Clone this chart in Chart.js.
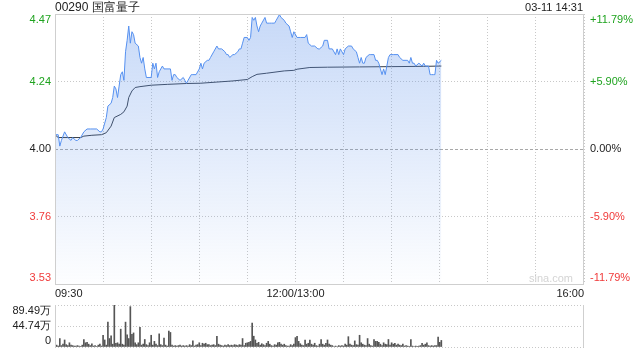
<!DOCTYPE html>
<html>
<head>
<meta charset="utf-8">
<script src="https://cdn.jsdelivr.net/npm/chart.js@4.4.1/dist/chart.umd.min.js"></script>
<style>
    html, body { margin: 0; padding: 0; background: #fff; }
    #wrap { position: relative; width: 640px; height: 360px; overflow: hidden; }
    #priceChart { position: absolute; left: 0; top: 0; }
    #volChart   { position: absolute; left: 0; top: 300px; }
</style>
</head>
<body>
<div id="wrap">
    <canvas id="priceChart" width="640" height="300"></canvas>
    <canvas id="volChart" width="640" height="60"></canvas>
</div>
<script>
// ── Data ──────────────────────────────────────────────────────────────────────
const title     = "00290 国富量子";
const stamp     = "03-11 14:31";
const prevClose = 4.00;

// minutes since 09:30 (12:00 and 13:00 share minute 150, 16:00 = 330)
const priceMinutes = [0, 2, 3, 4, 6, 8, 10, 11, 13, 14, 16, 18, 20, 22, 26, 28, 29, 30, 32, 33,
    35, 36, 37, 38, 39, 40, 41, 42, 43, 44, 45, 46, 47, 48, 49, 50, 52, 53, 54, 55,
    56, 57, 60, 61, 62, 63, 64, 65, 67, 68, 72, 73, 74, 75, 76, 78, 80, 81, 82, 83,
    85, 86, 88, 90, 91, 92, 93, 95, 96, 97, 99, 101, 102, 104, 106, 107, 108, 109, 111, 112,
    114, 115, 116, 117, 118, 120, 121, 122, 123, 124, 125, 126, 127, 128, 129, 131, 132, 134, 135, 137,
    138, 140, 141, 143, 144, 146, 147, 148, 149, 151, 153, 156, 157, 158, 160, 162, 164, 165, 167, 168,
    170, 171, 173, 175, 176, 177, 178, 180, 181, 183, 185, 186, 188, 189, 190, 191, 192, 193, 194, 196,
    197, 199, 200, 201, 202, 203, 204, 205, 206, 207, 208, 209, 211, 214, 215, 217, 219, 220, 221, 222,
    223, 224, 225, 227, 229, 230, 231, 233, 234, 235, 236, 237, 238, 239, 241];
const prices = [4.05, 4.05, 4.01, 4.03, 4.06, 4.04, 4.03, 4.04, 4.03, 4.03, 4.04, 4.06, 4.07, 4.07, 4.07, 4.06, 4.06, 4.07, 4.11, 4.15,
    4.16, 4.18, 4.22, 4.21, 4.18, 4.22, 4.26, 4.27, 4.24, 4.34, 4.38, 4.43, 4.37, 4.41, 4.40, 4.37, 4.36, 4.32, 4.30, 4.32,
    4.28, 4.25, 4.25, 4.30, 4.28, 4.30, 4.25, 4.27, 4.29, 4.28, 4.28, 4.24, 4.26, 4.26, 4.25, 4.24, 4.25, 4.24, 4.23, 4.24,
    4.26, 4.26, 4.26, 4.28, 4.30, 4.28, 4.30, 4.31, 4.31, 4.32, 4.34, 4.36, 4.35, 4.35, 4.34, 4.33, 4.33, 4.32, 4.33, 4.33,
    4.34, 4.35, 4.35, 4.37, 4.39, 4.39, 4.38, 4.39, 4.46, 4.45, 4.46, 4.43, 4.41, 4.43, 4.44, 4.46, 4.44, 4.44, 4.44, 4.44,
    4.45, 4.47, 4.46, 4.45, 4.44, 4.43, 4.41, 4.39, 4.41, 4.39, 4.39, 4.39, 4.40, 4.37, 4.36, 4.36, 4.35, 4.35, 4.36, 4.38,
    4.38, 4.35, 4.35, 4.33, 4.35, 4.33, 4.35, 4.33, 4.35, 4.36, 4.36, 4.35, 4.34, 4.32, 4.30, 4.32, 4.30, 4.30, 4.32, 4.33,
    4.33, 4.33, 4.31, 4.31, 4.30, 4.28, 4.26, 4.28, 4.26, 4.29, 4.32, 4.33, 4.33, 4.33, 4.32, 4.31, 4.31, 4.31, 4.30, 4.32,
    4.30, 4.30, 4.29, 4.30, 4.29, 4.30, 4.29, 4.29, 4.26, 4.26, 4.26, 4.26, 4.31, 4.30, 4.31];

const avgMinutes = [0, 2, 16, 18, 23, 29, 32, 35, 37, 41, 43, 45, 46, 48, 50, 53, 60, 70, 82, 91,
    101, 111, 120, 123, 126, 132, 143, 149, 151, 159, 170, 190, 210, 230, 241];
const avgPrices = [4.05, 4.04, 4.04, 4.045, 4.048, 4.05, 4.057, 4.08, 4.11, 4.121, 4.13, 4.15, 4.18, 4.203, 4.215, 4.218, 4.223, 4.226, 4.229, 4.23,
    4.234, 4.238, 4.243, 4.253, 4.261, 4.265, 4.273, 4.275, 4.279, 4.285, 4.286, 4.287, 4.288, 4.289, 4.29];

// volume per minute (万股), 09:30 .. 14:31
const volumes = [
    33, 4, 2, 18, 3, 6, 15, 5, 3, 9,
    4, 3, 2, 2, 3, 2, 1, 4, 16, 9,
    10, 6, 3, 7, 2, 3, 1, 4, 6, 2,
    25, 15, 4, 53, 18, 24, 6, 89, 8, 9,
    6, 38, 6, 4, 53, 26, 18, 86, 27, 30,
    9, 5, 9, 42, 4, 6, 16, 5, 3, 9,
    25, 4, 12, 6, 3, 28, 5, 3, 19, 4,
    2, 34, 31, 4, 2, 3, 2, 3, 4, 2,
    3, 2, 3, 2, 5, 3, 13, 2, 4, 5,
    9, 3, 8, 6, 8, 5, 5, 3, 4, 5,
    3, 23, 6, 4, 3, 2, 4, 3, 5, 3,
    4, 3, 5, 4, 3, 5, 4, 18, 3, 8,
    9, 10, 12, 51, 23, 15, 8, 10, 4, 7,
    5, 3, 8, 12, 6, 3, 2, 5, 4, 9,
    10, 6, 4, 6, 3, 2, 2, 5, 3, 6,
    20, 23, 12, 7, 4, 3, 15, 6, 8, 15,
    6, 4, 8, 3, 2, 6, 16, 6, 4, 8,
    15, 6, 4, 3, 1, 2, 1, 3, 2, 3,
    2, 6, 4, 22, 6, 4, 3, 13, 5, 4,
    25, 9, 6, 4, 3, 18, 6, 3, 2, 16,
    12, 12, 10, 6, 3, 9, 6, 5, 16, 4,
    9, 6, 8, 4, 6, 4, 3, 6, 2, 3,
    2, 1, 16, 2, 1, 2, 1, 2, 3, 8,
    4, 6, 9, 3, 2, 3, 2, 3, 3, 21,
    10, 14];

const priceTicks      = [4.472, 4.236, 4.000, 3.764, 3.528];
const priceTickLabels = ["4.47", "4.24", "4.00", "3.76", "3.53"];
const pctTickLabels   = ["+11.79%", "+5.90%", "0.00%", "-5.90%", "-11.79%"];
const gridMinutes     = [0, 30, 60, 90, 120, 150, 180, 210, 240, 270, 300, 330];
const timeTicks       = [0, 150, 330];
const timeTickLabels  = ["09:30", "12:00/13:00", "16:00"];
const volTicks        = [89.49, 44.74, 0];
const volTickLabels   = ["89.49万", "44.74万", "0"];

// ── Style ─────────────────────────────────────────────────────────────────────
const FONT_FAMILY = '"Liberation Sans", Arial, sans-serif';
const GREEN = '#1fa31f';
const RED   = '#f03a3a';
const TEXT  = '#222';
const GRID  = '#c8c8c8';
const FRAME = '#cfcfcf';

function tickColor(value, base) {
    if (Math.abs(value - base) < 1e-6) return TEXT;
    return value > base ? GREEN : RED;
}

function drawText(ctx, str, x, y, align, color, size) {
    ctx.save();
    ctx.font = (size || 11) + 'px ' + FONT_FAMILY;
    ctx.fillStyle = color;
    ctx.textAlign = align;
    ctx.textBaseline = 'middle';
    ctx.fillText(str, x, y);
    ctx.restore();
}

// ── Price chart ───────────────────────────────────────────────────────────────
const priceDecor = {
    id: 'priceDecor',
    beforeDatasetsDraw(chart) {
        const { ctx, chartArea: a, scales } = chart;
        const y0 = Math.round(scales.y.getPixelForValue(prevClose)) + 0.5;
        ctx.save();
        ctx.strokeStyle = '#a8a8a8';
        ctx.lineWidth = 1;
        ctx.setLineDash([3, 2]);
        ctx.beginPath();
        ctx.moveTo(a.left, y0);
        ctx.lineTo(a.right, y0);
        ctx.stroke();
        ctx.restore();
    },
    afterDraw(chart) {
        const { ctx, chartArea: a, scales } = chart;

        ctx.save();
        ctx.strokeStyle = FRAME;
        ctx.lineWidth = 1;
        ctx.strokeRect(Math.round(a.left) + 0.5, Math.round(a.top) + 0.5,
                       Math.round(a.right - a.left) - 1, Math.round(a.bottom - a.top));
        ctx.restore();

        priceTicks.forEach((v, i) => {
            let y = scales.y.getPixelForValue(v);
            y = Math.min(Math.max(y, a.top + 6), a.bottom - 6);
            const c = tickColor(v, prevClose);
            drawText(ctx, priceTickLabels[i], a.left - 4, y, 'right', c);
            drawText(ctx, pctTickLabels[i], a.right + 6, y, 'left', c);
        });

        timeTicks.forEach((m, i) => {
            const x = scales.x.getPixelForValue(m);
            const align = i === 0 ? 'left' : (i === timeTicks.length - 1 ? 'right' : 'center');
            drawText(ctx, timeTickLabels[i], x, a.bottom + 9.5, align, TEXT);
        });

        drawText(ctx, title, a.left, 7.5, 'left', TEXT, 12);
        drawText(ctx, stamp, a.right - 1, 7.5, 'right', TEXT);
        drawText(ctx, 'sina.com', a.right - 11, a.bottom - 5, 'right', '#d4d4d4');
    }
};

const priceChart = new Chart(document.getElementById('priceChart'), {
    type: 'line',
    data: {
        datasets: [
            {
                data: priceMinutes.map((m, i) => ({ x: m, y: prices[i] })),
                borderColor: '#5590f0',
                borderWidth: 1,
                pointRadius: 0,
                tension: 0,
                fill: 'start',
                backgroundColor(context) {
                    const a = context.chart.chartArea;
                    if (!a) return 'rgba(110,155,235,0.3)';
                    const g = context.chart.ctx.createLinearGradient(0, a.top, 0, a.bottom);
                    g.addColorStop(0, 'rgba(100,150,235,0.36)');
                    g.addColorStop(1, 'rgba(100,150,235,0.01)');
                    return g;
                }
            },
            {
                data: avgMinutes.map((m, i) => ({ x: m, y: avgPrices[i] })),
                borderColor: '#333a45',
                borderWidth: 1,
                pointRadius: 0,
                tension: 0,
                fill: false
            }
        ]
    },
    options: {
        responsive: false,
        animation: false,
        events: [],
        layout: { padding: { left: 55, right: 56, top: 14, bottom: 16 } },
        plugins: { legend: { display: false }, tooltip: { enabled: false } },
        scales: {
            x: {
                type: 'linear', min: 0, max: 330,
                afterBuildTicks: axis => { axis.ticks = gridMinutes.map(v => ({ value: v })); },
                ticks: { display: false },
                grid: { color: GRID, drawTicks: false },
                border: { display: false, dash: [1, 2] }
            },
            y: {
                min: 3.528, max: 4.472,
                afterBuildTicks: axis => { axis.ticks = priceTicks.map(v => ({ value: v })); },
                ticks: { display: false },
                grid: {
                    drawTicks: false,
                    color: c => (c.tick && Math.abs(c.tick.value - prevClose) < 1e-6) ? 'rgba(0,0,0,0)' : GRID
                },
                border: { display: false, dash: [1, 2] }
            }
        }
    },
    plugins: [priceDecor]
});

// ── Volume chart ──────────────────────────────────────────────────────────────
const volDecor = {
    id: 'volDecor',
    afterDraw(chart) {
        const { ctx, chartArea: a, scales } = chart;
        ctx.save();
        ctx.strokeStyle = FRAME;
        ctx.lineWidth = 1;
        ctx.beginPath();
        ctx.moveTo(Math.round(a.left) + 0.5, a.top);
        ctx.lineTo(Math.round(a.left) + 0.5, a.bottom);
        ctx.moveTo(Math.round(a.right) - 0.5, a.top);
        ctx.lineTo(Math.round(a.right) - 0.5, a.bottom);
        ctx.stroke();
        ctx.restore();

        volTicks.forEach((v, i) => {
            let y = scales.y.getPixelForValue(v);
            y = Math.min(Math.max(y, a.top + 6), a.bottom - 6.5);
            drawText(ctx, volTickLabels[i], a.left - 4, y, 'right', TEXT);
        });
    }
};

const volChart = new Chart(document.getElementById('volChart'), {
    type: 'bar',
    data: {
        datasets: [{
            data: volumes.map((v, i) => ({ x: i, y: v })),
            backgroundColor: '#555',
            borderWidth: 0,
            barThickness: 1,
            grouped: false
        }]
    },
    options: {
        responsive: false,
        animation: false,
        events: [],
        layout: { padding: { left: 55, right: 56, top: 5, bottom: 5 } },
        plugins: { legend: { display: false }, tooltip: { enabled: false } },
        scales: {
            x: {
                type: 'linear', min: 0, max: 330,
                offset: false,
                ticks: { display: false },
                grid: { display: false, offset: false },
                border: { display: false }
            },
            y: {
                min: 0, max: 89.49,
                afterBuildTicks: axis => { axis.ticks = volTicks.map(v => ({ value: v })); },
                ticks: { display: false },
                grid: { color: GRID, drawTicks: false },
                border: { display: false, dash: [1, 2] }
            }
        }
    },
    plugins: [volDecor]
});
</script>
</body>
</html>
